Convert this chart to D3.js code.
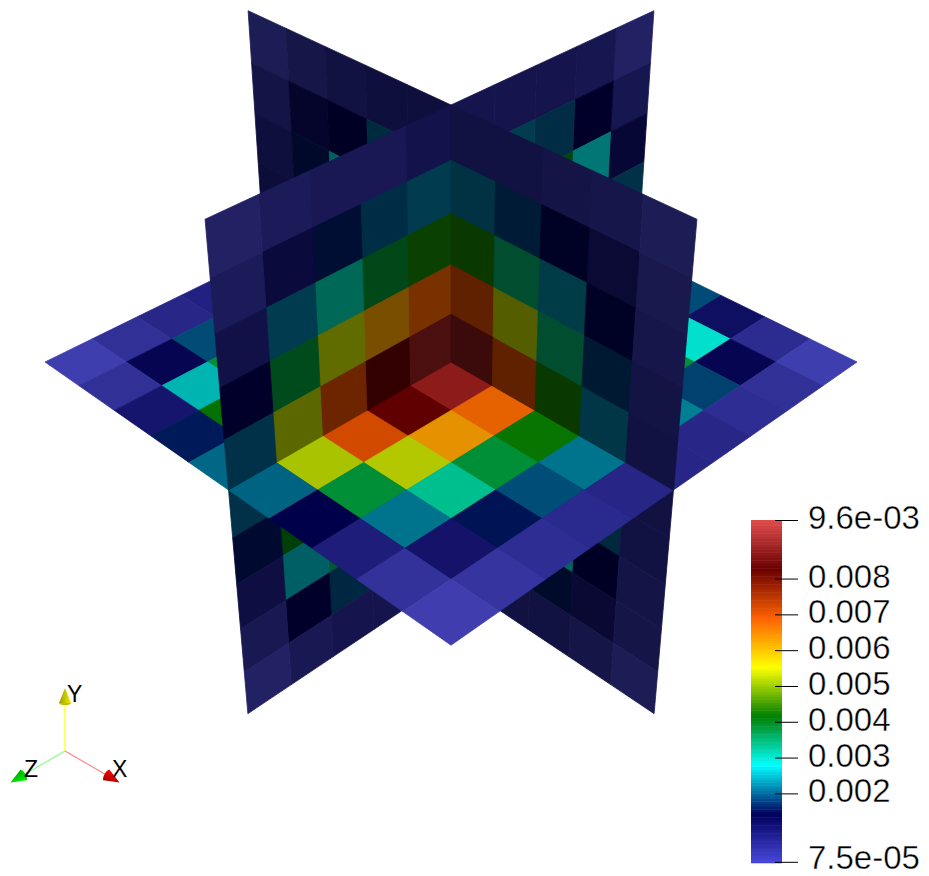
<!DOCTYPE html>
<html><head><meta charset="utf-8">
<script src="https://cdn.jsdelivr.net/npm/d3@7"></script>
<style>html,body{margin:0;padding:0;background:#fff}svg{display:block}text{font-family:"Liberation Sans",Arial,sans-serif;fill:#000}</style>
</head><body><svg id="c" width="929" height="876"></svg>
<script>
// ---- data: cell values ----
// floor plane y=0: rows z=-5..4, columns x=-5..4
const floorValues = [
[.0001,.0004,.0005,.0006,.0006,.0008,.0019,.00112,.0005,.0001],
[.0004,.0013,.0019,.0021,.0021,.002,.0048,.00281,.00133,.0004],
[.0005,.0019,.0028,.0038,.0042,.0042,.0062,.0038,.00184,.00045],
[.0006,.0021,.0038,.0048,.0062,.0068,.0071,.0042,.00221,.0006],
[.0006,.0021,.0042,.0062,.0071,.0088,.0085,.0042,.0021,.00062],
[.0008,.002,.0042,.0068,.0088,.00884,.00679,.00423,.00215,.00062],
[.0007,.0025,.0049,.0065,.0082,.00828,.00631,.00382,.00192,.00054],
[.0006,.0019,.0038,.0062,.0071,.00711,.00524,.00322,.00156,.00045],
[.0004,.00133,.00254,.0042,.0052,.00519,.00382,.00215,.00102,.00028],
[.0001,.0004,.00097,.00159,.00207,.00204,.00144,.00081,.00034,.000075]];
// plane x=0: rows y=4..-5, columns z=-5..4
const wallXValues = [
[.0001,.00055,.00062,.00062,.00062,.00069,.00044,.00044,.00032,.0001],
[.00055,.00144,.00194,.00212,.0021,.00211,.00195,.0016,.00103,.00032],
[.00117,.0028,.004,.0042,.0042,.00429,.00391,.00318,.00211,.00075],
[.002,.0048,.0062,.0071,.0085,.00685,.00631,.00524,.00385,.00144],
[.0015,.0042,.0068,.0082,.0088,.00885,.00828,.00716,.00519,.002],
[.0008,.002,.0042,.0068,.0088,.0085,.0075,.0052,.0039,.002],
[.0007,.0025,.0049,.0065,.0082,.0067,.0062,.0048,.0041,.00155],
[.0006,.0019,.0038,.0062,.0071,.0042,.0045,.0036,.00251,.00089],
[.0004,.00133,.00254,.0042,.0052,.002,.002,.00188,.00144,.00048],
[.0001,.0004,.00097,.00159,.00207,.0007,.00062,.00062,.00048,.0001]];
// plane z=0: rows y=4..-5, columns x=-5..4
const wallZValues = [
[.0001,.00042,.00062,.00075,.00075,.00062,.00062,.00051,.0004,.0001],
[.0005,.0012,.00144,.002,.0021,.0021,.0018,.00146,.00097,.00028],
[.00075,.00156,.0027,.0033,.0042,.00431,.00352,.00222,.00146,.0004],
[.00085,.0019,.0036,.0049,.0067,.00713,.00527,.00352,.00177,.00055],
[.0009,.0022,.0038,.006,.0085,.00873,.00713,.00431,.00215,.00062],
[.0009,.0022,.0038,.006,.0085,.0087,.0071,.0043,.0019,.00062],
[.00085,.0019,.0036,.0049,.0067,.0071,.0053,.0035,.00198,.00062],
[.00075,.00156,.0027,.0033,.0042,.0043,.0035,.00275,.00144,.00051],
[.0005,.0012,.00144,.002,.0021,.0021,.0018,.00157,.001,.00044],
[.0001,.00042,.00062,.00075,.00075,.0006,.00062,.00062,.00044,.0001]];
// colour map and legend
const colorStops = [0.000075,0.00144,0.00281,0.00418,0.00554,0.00691,0.00828,0.00965];
const colorValues = ["#4747db","#00005c","#00ffff","#008000","#ffff00","#ff6100","#6b0000","#e04c4c"];
const legendTicks = [0.002,0.003,0.004,0.005,0.006,0.007,0.008];
const legendEnds = [[0.000075,"7.5e-05"],[0.00965,"9.6e-03"]];
const axisNames = ["X","Y","Z"];

const svg = d3.select("#c");
const color = d3.scaleLinear().domain(colorStops).range(colorValues).clamp(true);
const cellToWorld = d3.scaleLinear().domain([0,10]).range([-5,5]);
const line = d3.line();

// perspective camera on the (1,1,1) diagonal
const cam = {cx:451, cy:362, A:40.6, B:23.36, C:46.93, D:0.0175, E:0.0174};
function project(x,y,z){
  const s=x-z, t=x+z, w=1-cam.D*t-cam.E*y;
  return [cam.cx+cam.A*s/w, cam.cy+(cam.B*t-cam.C*y)/w];
}
function shadeColor(v,f){
  const c=d3.rgb(color(v));
  return d3.rgb(c.r*f[0],c.g*f[1],c.b*f[2]).formatHex();
}
const floorShade=[.9,.88,.8], wallXShade=[.48,.47,.46], wallZShade=[.41,.41,.39];

const gScene = svg.append("g");
function drawCell(corners,v,f){
  const col=shadeColor(v,f);
  gScene.append("path").attr("d",line(corners.map(p=>project(...p)))+"Z")
    .attr("fill",col).attr("stroke",col).attr("stroke-width",0.8).attr("stroke-linejoin","round");
}
function drawWallZ(colFilter,rowFilter){
  wallZValues.forEach((row,r)=>row.forEach((v,c)=>{
    if(!colFilter(c)||!rowFilter(r))return;
    const x0=cellToWorld(c),x1=cellToWorld(c+1),y1=cellToWorld(9-r+1),y0=cellToWorld(9-r);
    drawCell([[x0,y0,0],[x1,y0,0],[x1,y1,0],[x0,y1,0]],v,wallZShade);
  }));
}
function drawWallX(rowFilter){
  wallXValues.forEach((row,r)=>row.forEach((v,c)=>{
    if(!rowFilter(r))return;
    const z0=cellToWorld(c),z1=cellToWorld(c+1),y1=cellToWorld(9-r+1),y0=cellToWorld(9-r);
    drawCell([[0,y0,z0],[0,y0,z1],[0,y1,z1],[0,y1,z0]],v,wallXShade);
  }));
}
function drawFloor(){
  floorValues.forEach((row,r)=>row.forEach((v,c)=>{
    const z0=cellToWorld(r),z1=cellToWorld(r+1),x0=cellToWorld(c),x1=cellToWorld(c+1);
    drawCell([[x0,0,z0],[x1,0,z0],[x1,0,z1],[x0,0,z1]],v,floorShade);
  }));
}
// back-to-front order by splitting on the three planes
const lower=r=>r>=5, upper=r=>r<5, negX=c=>c<5, posX=c=>c>=5;
drawWallZ(negX,lower); drawWallX(lower); drawWallZ(posX,lower);
drawFloor();
drawWallZ(negX,upper); drawWallX(upper); drawWallZ(posX,upper);

// ---- legend ----
const legendY = d3.scaleLinear().domain([0.000075,0.00965]).range([862.8,520]);
const gL = svg.append("g");
const bands = d3.range(128);
const bandV = d3.scaleLinear().domain([0,128]).range(legendY.domain());
gL.selectAll("rect.band").data(bands).join("rect").attr("class","band")
  .attr("x",751).attr("width",31)
  .attr("y",b=>legendY(bandV(b+1)))
  .attr("height",b=>legendY(bandV(b))-legendY(bandV(b+1))+0.5)
  .attr("fill",b=>color(bandV(b+0.5)));
const tickRows = legendTicks.map(v=>[v,legendY(v),d3.format(".3f")(v)])
  .concat(legendEnds.map(([v,l])=>[v,Math.min(Math.max(legendY(v),520.5),862.3),l]));
gL.selectAll("line.t").data(tickRows).join("line").attr("class","t")
  .attr("x1",775).attr("x2",798).attr("y1",d=>d[1]).attr("y2",d=>d[1])
  .attr("stroke","#000").attr("stroke-width",1);
gL.selectAll("text.l").data(tickRows).join("text").attr("class","l")
  .attr("x",808).attr("y",d=>Math.min(d[1]+8.5,868.8)).attr("font-size",33)
  .attr("stroke","#fff").attr("stroke-width",0.4).text(d=>d[2]);

// ---- orientation triad ----
const triadO=[65,751], triadL=d3.scaleLinear().domain([0,1]).range([0,63]);
const dirs={X:[Math.cos(Math.PI/6),Math.sin(Math.PI/6)],Y:[0,-1],Z:[-Math.cos(Math.PI/6),Math.sin(Math.PI/6)]};
const lineCol={X:"#ff8888",Y:"#ffff00",Z:"#88ff88"};
const coneCol={X:["#a00000","#ff0000"],Y:["#9a9a00","#f0f000"],Z:["#00a000","#00ff00"]};
const labelPos={X:[112,777],Y:[67,702],Z:[24,777]};
const gT=svg.append("g");
const defs=svg.append("defs");
axisNames.forEach(n=>{
  const d=dirs[n], pt=k=>[triadO[0]+d[0]*triadL(k),triadO[1]+d[1]*triadL(k)];
  gT.append("path").attr("d",line([triadO,pt(.76)])).attr("stroke",lineCol[n]).attr("stroke-width",1.2).attr("fill","none");
  const b=pt(.76), tip=pt(1), perp=[-d[1],d[0]], R=6;
  const g=defs.append("linearGradient").attr("id","g"+n).attr("gradientUnits","userSpaceOnUse")
    .attr("x1",b[0]-perp[0]*R).attr("y1",b[1]-perp[1]*R).attr("x2",b[0]+perp[0]*R).attr("y2",b[1]+perp[1]*R);
  const flip=n==="Y"?[coneCol[n][0],coneCol[n][1]]:[coneCol[n][1],coneCol[n][0]];
  g.append("stop").attr("offset",0).attr("stop-color",flip[0]);
  g.append("stop").attr("offset",1).attr("stop-color",flip[1]);
  const ang=Math.atan2(d[1],d[0])*180/Math.PI;
  gT.append("ellipse").attr("cx",b[0]).attr("cy",b[1]).attr("rx",2).attr("ry",R)
    .attr("transform",`rotate(${ang} ${b[0]} ${b[1]})`).attr("fill",`url(#g${n})`);
  gT.append("path").attr("d",line([[b[0]+perp[0]*R,b[1]+perp[1]*R],tip,[b[0]-perp[0]*R,b[1]-perp[1]*R]])+"Z").attr("fill",`url(#g${n})`);
  gT.append("text").attr("x",labelPos[n][0]).attr("y",labelPos[n][1]).attr("font-size",23).text(n);
});
</script></body></html>
